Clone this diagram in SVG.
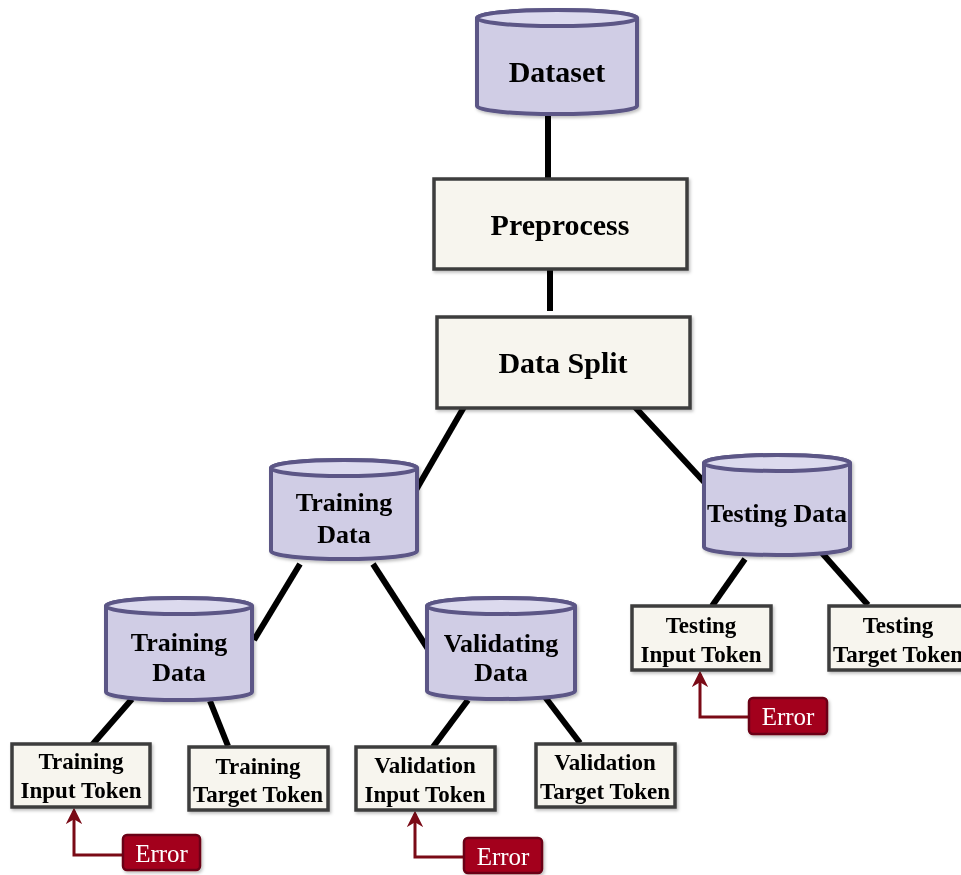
<svg xmlns="http://www.w3.org/2000/svg" width="961" height="875" viewBox="0 0 961 875">
  <defs>
    <filter id="shadow" x="-10%" y="-10%" width="125%" height="130%">
      <feDropShadow dx="1.5" dy="2" stdDeviation="1.5" flood-color="#000" flood-opacity="0.25"/>
    </filter>
    <marker id="arrowRed" viewBox="0 0 10 10" refX="8" refY="5" markerWidth="5.5" markerHeight="5.5" orient="auto" markerUnits="strokeWidth">
      <path d="M0,0 L10,5 L0,10 L3,5 Z" fill="#7a0a16"/>
    </marker>
    <style>
      .cyl-body { fill: #d0cde5; stroke: #5b5686; stroke-width: 4; }
      .cyl-top { fill: #dcdaee; stroke: #5b5686; stroke-width: 4; }
      .box { fill: #f7f5ee; stroke: #3e3e3e; stroke-width: 3.5; }
      .err { fill: #a3001f; stroke: #6b0414; stroke-width: 2.5; }
      .link { stroke: #000; stroke-width: 6; fill: none; }
      .errlink { stroke: #7a0a16; stroke-width: 3; fill: none; }
      text { font-family: "Liberation Serif", "Times New Roman", serif; text-anchor: middle; fill: #000; }
      .lbl { font-weight: bold; }
      .big { font-size: 30px; }
      .mid { font-size: 26px; }
      .sm { font-size: 23px; }
      .errtxt { font-size: 25px; fill: #fff; }
    </style>
  </defs>

  <!-- connectors -->
  <g id="connectors">
    <line class="link" x1="548" y1="113" x2="548" y2="180"/>
    <line class="link" x1="550" y1="269" x2="550" y2="311"/>
    <line class="link" x1="464" y1="407" x2="416" y2="490"/>
    <line class="link" x1="634" y1="406" x2="706" y2="484"/>
    <line class="link" x1="300" y1="564" x2="254" y2="640"/>
    <line class="link" x1="373" y1="564" x2="428" y2="649"/>
    <line class="link" x1="132" y1="699" x2="92" y2="745"/>
    <line class="link" x1="210" y1="701" x2="228" y2="746"/>
    <line class="link" x1="468" y1="700" x2="433" y2="747"/>
    <line class="link" x1="545" y1="697" x2="580" y2="743"/>
    <line class="link" x1="745" y1="559" x2="712" y2="606"/>
    <line class="link" x1="822" y1="553" x2="868" y2="605"/>
    <polyline class="errlink" points="123,855 74,855 74,811" marker-end="url(#arrowRed)"/>
    <polyline class="errlink" points="464,857 415,857 415,814" marker-end="url(#arrowRed)"/>
    <polyline class="errlink" points="749,717 700,717 700,674" marker-end="url(#arrowRed)"/>
  </g>

  <!-- Dataset -->
  <g id="dataset" filter="url(#shadow)">
    <path class="cyl-body" d="M477,18 A80,8 0 0 1 637,18 V106 A80,8 0 0 1 477,106 Z"/>
    <ellipse class="cyl-top" cx="557" cy="18" rx="80" ry="8"/>
    <text class="lbl big" x="557" y="82">Dataset</text>
  </g>

  <!-- Preprocess -->
  <g id="preprocess" filter="url(#shadow)">
    <rect class="box" x="434" y="179" width="253" height="90"/>
    <text class="lbl big" x="560" y="235">Preprocess</text>
  </g>

  <!-- Data Split -->
  <g id="data-split" filter="url(#shadow)">
    <rect class="box" x="437" y="317" width="253" height="91"/>
    <text class="lbl big" x="563" y="373">Data Split</text>
  </g>

  <!-- Training Data (split) -->
  <g id="training-data" filter="url(#shadow)">
    <path class="cyl-body" d="M271,468 A73,8 0 0 1 417,468 V551 A73,8 0 0 1 271,551 Z"/>
    <ellipse class="cyl-top" cx="344" cy="468" rx="73" ry="8"/>
    <text class="lbl mid" x="344" y="511">Training</text>
    <text class="lbl mid" x="344" y="543">Data</text>
  </g>

  <!-- Testing Data -->
  <g id="testing-data" filter="url(#shadow)">
    <path class="cyl-body" d="M704,463 A73,8 0 0 1 850,463 V547 A73,8 0 0 1 704,547 Z"/>
    <ellipse class="cyl-top" cx="777" cy="463" rx="73" ry="8"/>
    <text class="lbl mid" x="777" y="522">Testing Data</text>
  </g>

  <!-- Training Data (sub-split) -->
  <g id="training-subset" filter="url(#shadow)">
    <path class="cyl-body" d="M106,606 A73,8 0 0 1 252,606 V692 A73,8 0 0 1 106,692 Z"/>
    <ellipse class="cyl-top" cx="179" cy="606" rx="73" ry="8"/>
    <text class="lbl mid" x="179" y="651">Training</text>
    <text class="lbl mid" x="179" y="681">Data</text>
  </g>

  <!-- Validating Data -->
  <g id="validating-data" filter="url(#shadow)">
    <path class="cyl-body" d="M427,606 A74,8 0 0 1 575,606 V691 A74,8 0 0 1 427,691 Z"/>
    <ellipse class="cyl-top" cx="501" cy="606" rx="74" ry="8"/>
    <text class="lbl mid" x="501" y="652">Validating</text>
    <text class="lbl mid" x="501" y="681">Data</text>
  </g>

  <!-- Token boxes -->
  <g id="training-input" filter="url(#shadow)">
    <rect class="box" x="12" y="744" width="138" height="63"/>
    <text class="lbl sm" x="81" y="769">Training</text>
    <text class="lbl sm" x="81" y="798">Input Token</text>
  </g>
  <g id="training-target" filter="url(#shadow)">
    <rect class="box" x="189" y="747" width="139" height="63"/>
    <text class="lbl sm" x="258" y="774">Training</text>
    <text class="lbl sm" x="258" y="802">Target Token</text>
  </g>
  <g id="validation-input" filter="url(#shadow)">
    <rect class="box" x="356" y="747" width="139" height="63"/>
    <text class="lbl sm" x="425" y="773">Validation</text>
    <text class="lbl sm" x="425" y="802">Input Token</text>
  </g>
  <g id="validation-target" filter="url(#shadow)">
    <rect class="box" x="536" y="744" width="139" height="63"/>
    <text class="lbl sm" x="605" y="770">Validation</text>
    <text class="lbl sm" x="605" y="799">Target Token</text>
  </g>
  <g id="testing-input" filter="url(#shadow)">
    <rect class="box" x="632" y="606" width="139" height="64"/>
    <text class="lbl sm" x="701" y="633">Testing</text>
    <text class="lbl sm" x="701" y="662">Input Token</text>
  </g>
  <g id="testing-target" filter="url(#shadow)">
    <rect class="box" x="829" y="606" width="140" height="64"/>
    <text class="lbl sm" x="898" y="633">Testing</text>
    <text class="lbl sm" x="898" y="662">Target Token</text>
  </g>

  <!-- Error sources -->
  <g id="error-training" filter="url(#shadow)">
    <rect class="err" x="123" y="835" width="77" height="35" rx="4"/>
    <text class="errtxt" x="161.5" y="862">Error</text>
  </g>
  <g id="error-validation" filter="url(#shadow)">
    <rect class="err" x="464" y="838" width="78" height="35" rx="4"/>
    <text class="errtxt" x="503" y="865">Error</text>
  </g>
  <g id="error-testing" filter="url(#shadow)">
    <rect class="err" x="749" y="698" width="78" height="36" rx="4"/>
    <text class="errtxt" x="788" y="725">Error</text>
  </g>
</svg>
